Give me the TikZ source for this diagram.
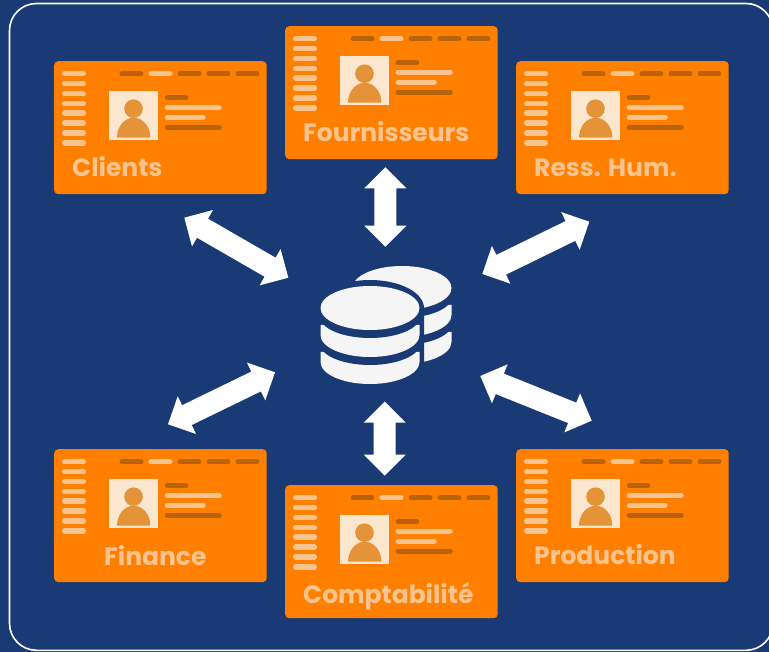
\documentclass[tikz,border=0pt]{standalone}
\usepackage{fontspec}
\setmainfont{Poppins}[BoldFont={Poppins Bold}]
\usetikzlibrary{calc}
\definecolor{bgblue}{HTML}{1A3A75}
\definecolor{cardor}{HTML}{FF8000}
\definecolor{lightor}{HTML}{FBC48F}
\definecolor{darkor}{HTML}{B8620A}
\definecolor{photobg}{HTML}{FDE6CE}
\definecolor{person}{HTML}{E59338}
\definecolor{dbwhite}{HTML}{F5F5F5}
\tikzset{
  cardbox/.style={fill=cardor,rounded corners=4,inner sep=0,minimum width=212.5,minimum height=133,anchor=north west},
  cardlabel/.style={text=lightor,font=\bfseries\fontsize{25}{30}\selectfont,inner sep=0,anchor=base west},
  barl/.style={line width=5.5,line cap=round,draw=lightor},
  bard/.style={line width=5.5,line cap=round,draw=darkor},
  linkarrow/.style={fill=white},
}
\newcommand{\idcard}[3]{%
  \node[cardbox] (#1) at (#2,#3) {};
  \begin{scope}[shift={(#2,#3)}]
    \foreach \yy in {12.7,22.7,32.7,42.7,52,62,72,82}
      \draw[barl] (10.7,\yy) -- (29.3,\yy);
    \draw[bard] (68.2,12.7) -- (86.8,12.7);
    \draw[barl] (97.2,12.7) -- (115.8,12.7);
    \draw[bard] (126.2,12.7) -- (144.8,12.7);
    \draw[bard] (155.2,12.7) -- (173.8,12.7);
    \draw[bard] (184.2,12.7) -- (202.8,12.7);
    \fill[photobg] (55,30) rectangle (104,79);
    \fill[person] (79.5,47.7) circle (9.3);
    \fill[person] (63,76.7) arc[start angle=180,end angle=360,x radius=16.7,y radius=20] -- cycle;
    \draw[bard] (113.4,36.7) -- (131.6,36.7);
    \draw[barl] (113.4,46.3) -- (165,46.3);
    \draw[barl] (113.4,56.3) -- (149,56.3);
    \draw[bard] (113.4,66.3) -- (165,66.3);
  \end{scope}}
\newcommand{\dbstack}[2]{%
  \fill[dbwhite] (#1-49.5,#2+44) -- (#1-49.5,#2+54) arc[start angle=180,end angle=0,x radius=49.5,y radius=22] -- (#1+49.5,#2+44) -- cycle;
  \fill[bgblue] (#1-50.5,#2+27) -- (#1-50.5,#2+35) arc[start angle=180,end angle=0,x radius=50.5,y radius=22] -- (#1+50.5,#2+27) -- cycle;
  \fill[dbwhite] (#1-49.5,#2+17) -- (#1-49.5,#2+27) arc[start angle=180,end angle=0,x radius=49.5,y radius=22] -- (#1+49.5,#2+17) -- cycle;
  \fill[bgblue] (#1-50.5,#2) -- (#1-50.5,#2+8) arc[start angle=180,end angle=0,x radius=50.5,y radius=22] -- (#1+50.5,#2) -- cycle;
  \fill[dbwhite] (#1,#2) ellipse [x radius=49.5,y radius=22];}
\newcommand{\linkarrow}[2]{%
  \coordinate (na) at ($(#1)!21pt!(#2)$);
  \coordinate (nb) at ($(#2)!21pt!(#1)$);
  \fill[linkarrow] (#1) -- ($(na)!21pt!90:(#2)$) -- ($(na)!11pt!90:(#2)$)
    -- ($(nb)!11pt!-90:(#1)$) -- ($(nb)!21pt!-90:(#1)$) -- (#2)
    -- ($(nb)!21pt!90:(#1)$) -- ($(nb)!11pt!90:(#1)$)
    -- ($(na)!11pt!-90:(#2)$) -- ($(na)!21pt!-90:(#2)$) -- cycle;}
\begin{document}
\begin{tikzpicture}[x=1pt,y=-1pt]
  \fill[bgblue] (0,0) rectangle (769,652);
  \useasboundingbox (0,0) rectangle (769,652);
  \begin{scope}
    \clip (0,0) rectangle (769,652);
    \draw[white,line width=1.6,rounded corners=27] (9.5,3.5) rectangle (773,650.3);
  \end{scope}

  \idcard{clients}{54}{61}
  \idcard{fourn}{285}{26}
  \idcard{rh}{516}{61}
  \idcard{fin}{54}{449}
  \idcard{compta}{285}{485}
  \idcard{prod}{516}{449}

  \node[cardlabel] (lclients) at (72,177) {Clients};
  \node[cardlabel] (lfourn) at (303,142) {Fournisseurs};
  \node[cardlabel] (lrh) at (534,177) {Ress. Hum.};
  \node[cardlabel] (lfin) at (104,565) {Finance};
  \node[cardlabel] (lcompta) at (303,603) {Comptabilité};
  \node[cardlabel] (lprod) at (534,564) {Production};

  % database
  \dbstack{402}{288}
  \fill[bgblue] (370-54,308) -- (370-54,362) arc[start angle=180,end angle=0,x radius=54,y radius=26.5] -- (370+54,308) arc[start angle=0,end angle=-180,x radius=54,y radius=28] -- cycle;
  \dbstack{370}{308}

  % arrows
  \coordinate (a1) at (184.3,217.7); \coordinate (b1) at (288.3,277.7);
  \coordinate (a2) at (385.3,167.3); \coordinate (b2) at (385.3,246.7);
  \coordinate (a3) at (589.3,221.7); \coordinate (b3) at (482.3,274);
  \coordinate (a4) at (168,424.3);   \coordinate (b4) at (275,372.3);
  \coordinate (a5) at (384.7,475.7); \coordinate (b5) at (384.7,401.7);
  \coordinate (a6) at (591.7,420.7); \coordinate (b6) at (480.3,376);
  \linkarrow{a1}{b1}
  \linkarrow{a2}{b2}
  \linkarrow{a3}{b3}
  \linkarrow{a4}{b4}
  \linkarrow{a5}{b5}
  \linkarrow{a6}{b6}
\end{tikzpicture}
\end{document}
